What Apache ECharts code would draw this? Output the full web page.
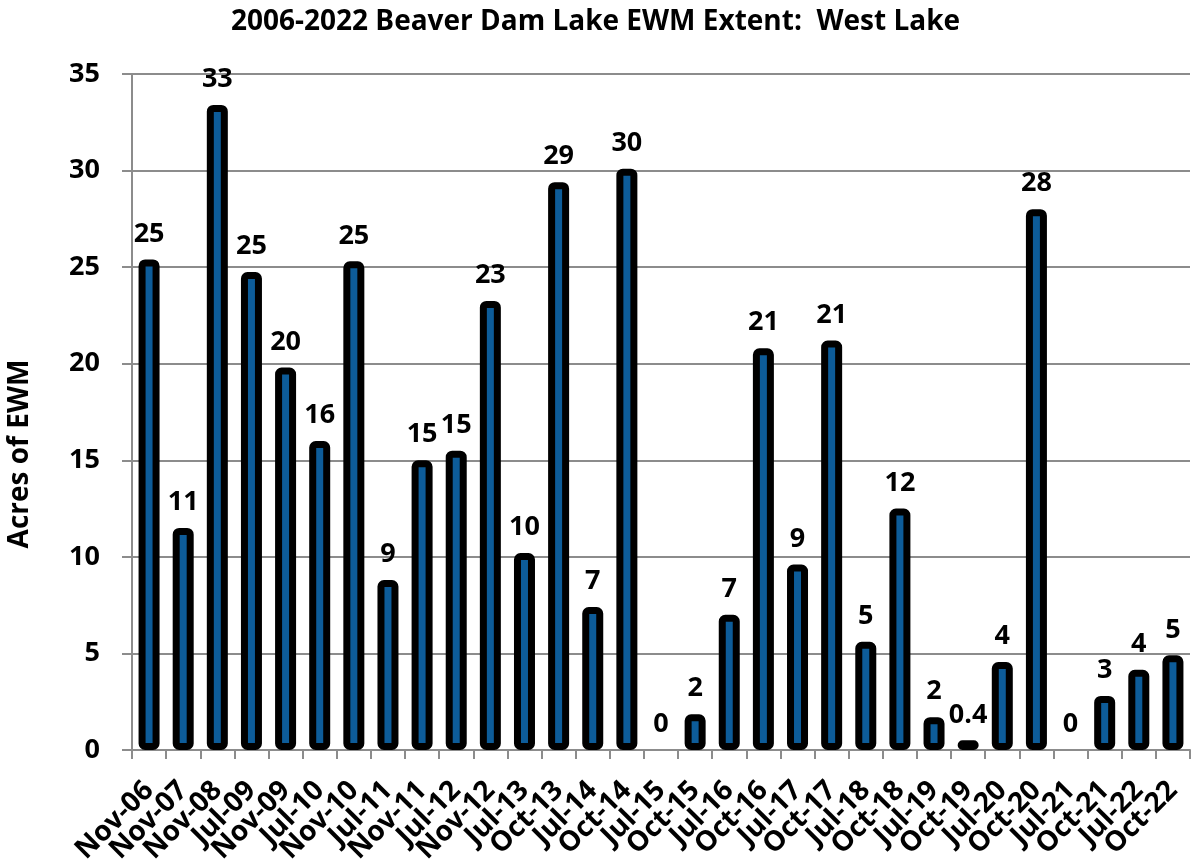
<!DOCTYPE html>
<html>
<head>
<meta charset="utf-8">
<style>
  html, body { margin: 0; padding: 0; background: #fff; }
  #chart { width: 1191px; height: 863px; }
</style>
<script src="https://cdn.jsdelivr.net/npm/echarts@6/dist/echarts.min.js"></script>
</head>
<body>
<div id="chart"></div>
<script>
// survey dates
const categories = ['Nov-06', 'Nov-07', 'Nov-08', 'Jul-09', 'Nov-09', 'Jul-10', 'Nov-10', 'Jul-11',
    'Nov-11', 'Jul-12', 'Nov-12', 'Jul-13', 'Oct-13', 'Jul-14', 'Oct-14', 'Jul-15', 'Oct-15',
    'Jul-16', 'Oct-16', 'Jul-17', 'Oct-17', 'Jul-18', 'Oct-18', 'Jul-19', 'Oct-19', 'Jul-20',
    'Oct-20', 'Jul-21', 'Oct-21', 'Jul-22', 'Oct-22']
// acres of EWM
const acres = [25.4, 11.5, 33.4, 24.75, 19.8, 16.0, 25.3, 8.8, 15.0, 15.5, 23.25, 10.2, 29.4, 7.4,
    30.1, 0, 1.85, 7.0, 20.8, 9.6, 21.2, 5.6, 12.5, 1.7, 0.5, 4.55, 28.0, 0, 2.8, 4.15, 4.9]
// printed labels above the bars
const barLabels = ['25', '11', '33', '25', '20', '16', '25', '9', '15', '15', '23', '10', '29', '7',
    '30', '0', '2', '7', '21', '9', '21', '5', '12', '2', '0.4', '4', '28', '0', '3', '4', '5']
const yTicks = [0, 5, 10, 15, 20, 25, 30, 35]

const font = '"Open Sans", "Noto Sans", sans-serif'
const chart = echarts.init(document.getElementById('chart'))
chart.setOption({
    animation: false,
    title: {
        text: '2006-2022 Beaver Dam Lake EWM Extent:  West Lake',
        left: 'center',
        top: 3,
        textStyle: {fontFamily: font, fontSize: 28, fontWeight: 'bold', color: '#000'}
    },
    grid: {left: 132, right: 1, top: 74, bottom: 113, outerBoundsMode: 'none'},
    xAxis: {
        type: 'category',
        data: categories,
        axisLine: {lineStyle: {color: '#8c8c8c', width: 2}},
        axisTick: {show: true, length: 9, lineStyle: {color: '#8c8c8c', width: 2}},
        axisLabel: {
            rotate: 45,
            interval: 0,
            margin: 36,
            fontFamily: font,
            fontSize: 28,
            fontWeight: 'bold',
            color: '#000'
        }
    },
    yAxis: {
        type: 'value',
        min: yTicks[0],
        max: yTicks[yTicks.length - 1],
        interval: 5,
        name: 'Acres of EWM',
        nameLocation: 'middle',
        nameGap: 98,
        nameTextStyle: {fontFamily: font, fontSize: 28, fontWeight: 'bold', color: '#000', padding: [0, 84, 0, 0]},
        axisLine: {show: true, lineStyle: {color: '#8c8c8c', width: 2}},
        axisTick: {show: true, length: 10, lineStyle: {color: '#8c8c8c', width: 2}},
        splitLine: {lineStyle: {color: '#8c8c8c', width: 2}},
        axisLabel: {margin: 32, fontFamily: font, fontSize: 27, fontWeight: 'bold', color: '#000'}
    },
    series: [{
        type: 'bar',
        // empty bars get no outline, only their "0" label
        data: acres.map(v => v === 0 ? {value: v, itemStyle: {borderWidth: 0}} : v),
        barWidth: 21,
        itemStyle: {color: '#0d5c99', borderColor: '#000', borderWidth: 7, borderRadius: 3},
        label: {
            show: true,
            position: 'top',
            distance: 12,
            fontFamily: font,
            fontSize: 27,
            fontWeight: 'bold',
            color: '#000',
            formatter: p => barLabels[p.dataIndex]
        }
    }]
})
</script>
</body>
</html>
